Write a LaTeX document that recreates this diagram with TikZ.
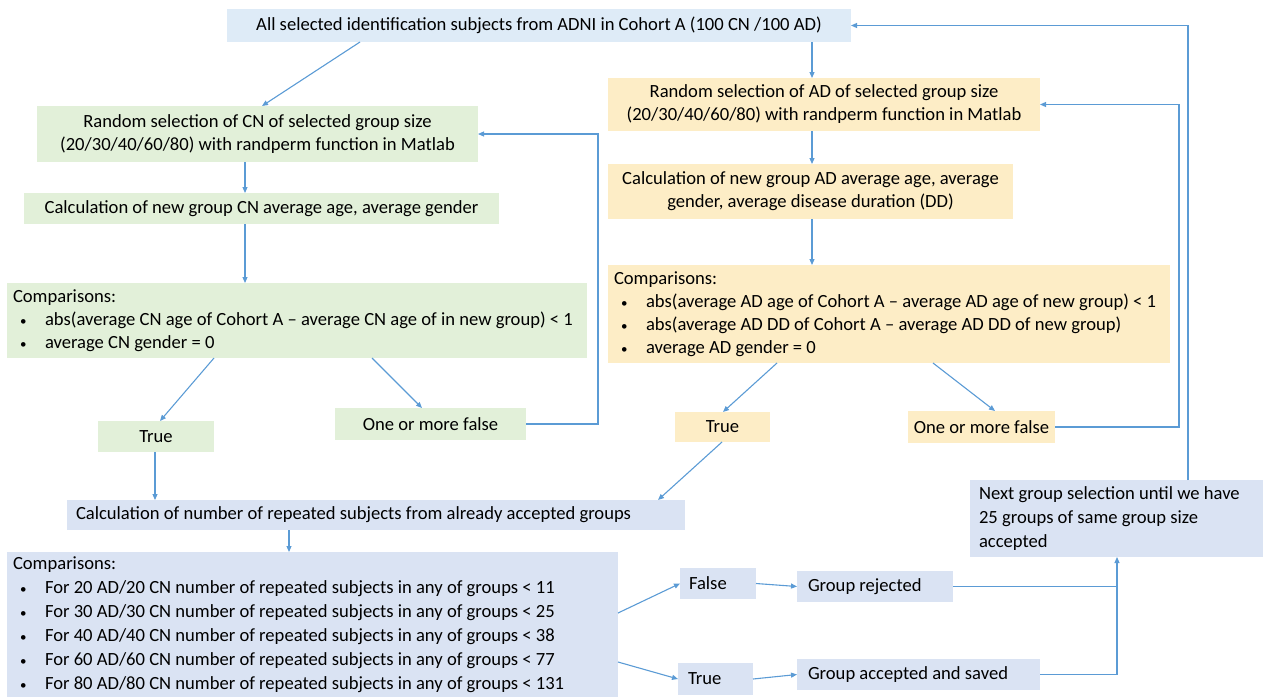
\documentclass[tikz,border=0pt]{standalone}
\usepackage{fontspec}
\setmainfont{Carlito}
\usetikzlibrary{arrows.meta}
\definecolor{lblue}{HTML}{DAE3F3}
\definecolor{tblue}{HTML}{DEEBF7}
\definecolor{lgreen}{HTML}{E2F0D9}
\definecolor{lyel}{HTML}{FDEDC6}
\definecolor{arrc}{HTML}{5B9BD5}
\newcommand\itm{\\\hspace*{7pt}\makebox[25pt][l]{\fontsize{13}{13}\selectfont •}}
\begin{document}
\begin{tikzpicture}[x=1pt,y=-1pt,
  box/.style={anchor=north west, inner sep=0pt, outer sep=0pt, align=center,
    font=\fontsize{18.6}{23}\selectfont},
  bbox/.style={box, fill=lblue},
  tbox/.style={box, fill=tblue},
  gbox/.style={box, fill=lgreen},
  ybox/.style={box, fill=lyel},
  lft/.style={align=left, inner xsep=6pt, execute at begin node={\spaceskip=0pt\xspaceskip=0pt\relax}},
  wide/.style={font=\fontsize{18.6}{24}\selectfont},
  arr/.style={draw=arrc, line width=1.1pt, -{Triangle[length=6pt,width=5pt]}},
  ln/.style={draw=arrc, line width=1.1pt}]
\useasboundingbox (0,0) rectangle (1263,697);

% top
\node[tbox, minimum width=624pt, minimum height=33pt] (top) at (227,9)
  {All selected identification subjects from ADNI in Cohort A (100 CN /100 AD)};

% CN branch
\node[gbox, minimum width=441pt, minimum height=56pt] (cnr) at (37,106)
  {Random selection of CN of selected group size\\(20/30/40/60/80) with randperm function in Matlab};
\node[gbox, minimum width=475pt, minimum height=31pt] (cnc) at (24,193)
  {Calculation of new group CN average age, average gender};
\node[gbox, lft, text width=568pt, minimum height=75pt] (cnk) at (7,283)
  {Comparisons:\itm abs(average CN age of Cohort A -- average CN age of in new group) < 1\itm average CN gender = 0};
\node[gbox, minimum width=116pt, minimum height=31pt] (cnt) at (98,421) {True};
\node[gbox, minimum width=191pt, minimum height=32pt] (cnf) at (335,408) {One or more false};

% AD branch
\node[ybox, minimum width=432pt, minimum height=53pt] (adr) at (608,78)
  {Random selection of AD of selected group size\\(20/30/40/60/80) with randperm function in Matlab};
\node[ybox, minimum width=405pt, minimum height=55pt] (adc) at (608,164)
  {Calculation of new group AD average age, average\\gender, average disease duration (DD)};
\node[ybox, lft, text width=550pt, minimum height=98pt] (adk) at (608,265)
  {Comparisons:\itm abs(average AD age of Cohort A -- average AD age of new group) < 1\itm abs(average AD DD of Cohort A -- average AD DD of new group)\itm average AD gender = 0};
\node[ybox, minimum width=95pt, minimum height=30pt] (adt) at (675,412) {True};
\node[ybox, minimum width=147pt, minimum height=32pt] (adf) at (908,411) {One or more false};

% bottom part
\node[bbox, lft, inner xsep=9pt, text width=600pt, minimum height=30pt] (rep) at (67,500)
  {Calculation of number of repeated subjects from already accepted groups};
\node[bbox, lft, wide, text width=599pt, minimum height=145pt] (k2) at (7,552)
  {Comparisons:\itm For 20 AD/20 CN number of repeated subjects in any of groups < 11\itm For 30 AD/30 CN number of repeated subjects in any of groups < 25\itm For 40 AD/40 CN number of repeated subjects in any of groups < 38\itm For 60 AD/60 CN number of repeated subjects in any of groups < 77\itm For 80 AD/80 CN number of repeated subjects in any of groups < 131};
\node[bbox, lft, inner xsep=9pt, text width=58pt, minimum height=31pt] (fal) at (680,568) {False};
\node[bbox, lft, inner xsep=10pt, text width=55pt, minimum height=32pt] (tru) at (678,663) {True};
\node[bbox, lft, inner xsep=11pt, text width=134pt, minimum height=31pt] (rej) at (797,571) {Group rejected};
\node[bbox, lft, inner xsep=11pt, text width=221pt, minimum height=31pt] (acc) at (797,659) {Group accepted and saved};
\node[bbox, lft, wide, inner xsep=9pt, text width=275pt, minimum height=77pt] (nxt) at (970,480)
  {Next group selection until we have\\25 groups of same group size\\accepted};

% connectors
\draw[arr] ([xshift=133pt]top.south west) -- ([xshift=225pt]cnr.north west);
\draw[arr] ([xshift=585pt]top.south west) -- ([xshift=204pt]adr.north west);
\draw[arr] ([xshift=208pt]cnr.south west) -- ([xshift=221pt]cnc.north west);
\draw[arr] ([xshift=221pt]cnc.south west) -- ([xshift=238pt]cnk.north west);
\draw[arr] ([xshift=207pt]cnk.south west) -- ([xshift=62pt]cnt.north west);
\draw[arr] ([xshift=365pt]cnk.south west) -- ([xshift=87pt]cnf.north west);
\draw[arr] (cnf.east) -- ++(72,0) |- (cnr.east);

\draw[arr] ([xshift=204pt]adr.south west) -- ([xshift=204pt]adc.north west);
\draw[arr] ([xshift=204pt]adc.south west) -- ([xshift=204pt]adk.north west);
\draw[arr] ([xshift=169pt]adk.south west) -- ([xshift=48pt]adt.north west);
\draw[arr] ([xshift=325pt]adk.south west) -- ([xshift=87pt]adf.north west);
\draw[arr] (adf.east) -- ++(124,0) |- (adr.east);

\draw[arr] ([xshift=47pt]adt.south west) -- ([xshift=-27pt]rep.north east);
\draw[arr] ([xshift=57pt]cnt.south west) -- ([xshift=88pt]rep.north west);
\draw[arr] ([xshift=222pt]rep.south west) -- ([xshift=282pt]k2.north west);
\draw[arr] ([yshift=-61pt]k2.north east) -- (fal.west);
\draw[arr] ([yshift=-110pt]k2.north east) -- (tru.west);
\draw[arr] (fal.east) -- (rej.west);
\draw[arr] (tru.east) -- (acc.west);
\coordinate (j) at ([xshift=147pt]nxt.south west);
\draw[ln] (rej.east) -- (rej.east -| j);
\draw[arr] (acc.east) -| (j);
\draw[arr] ([xshift=218pt]nxt.north west) |- (top.east);
\end{tikzpicture}
\end{document}
